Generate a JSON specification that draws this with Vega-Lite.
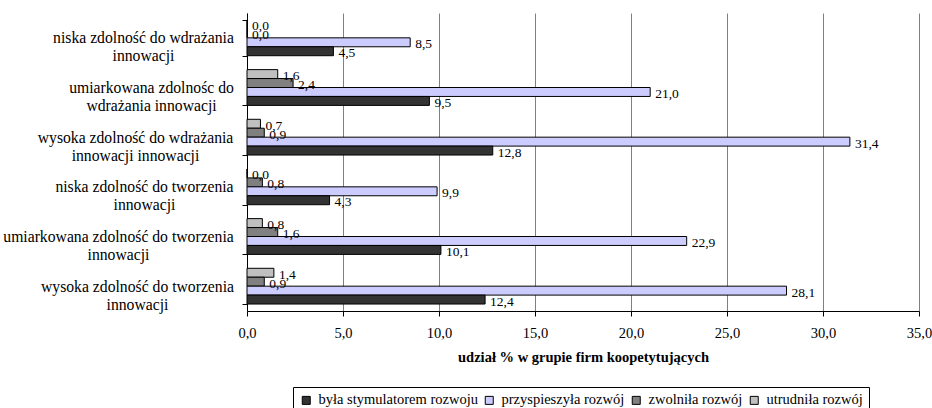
{
  "$schema": "https://vega.github.io/schema/vega-lite/v6.json",
  "width": 672,
  "height": 298,
  "autosize": {"type": "none"},
  "padding": {"left": 247, "top": 13, "right": 13, "bottom": 97},
  "background": "white",
  "config": {
    "font": "Liberation Serif, Times New Roman, DejaVu Serif, serif",
    "view": {"stroke": null},
    "locale": {"number": {"decimal": ",", "thousands": " ", "grouping": [3], "currency": ["", " zł"]}}
  },
  "data": {
    "values": [
      {"kategoria": "niska zdolność do wdrażania\ninnowacji", "odpowiedz": "utrudniła rozwój", "udzial": 0.0},
      {"kategoria": "niska zdolność do wdrażania\ninnowacji", "odpowiedz": "zwolniła rozwój", "udzial": 0.0},
      {"kategoria": "niska zdolność do wdrażania\ninnowacji", "odpowiedz": "przyspieszyła rozwój", "udzial": 8.5},
      {"kategoria": "niska zdolność do wdrażania\ninnowacji", "odpowiedz": "była stymulatorem rozwoju", "udzial": 4.5},
      {"kategoria": "umiarkowana zdolnośc do\nwdrażania innowacji", "odpowiedz": "utrudniła rozwój", "udzial": 1.6},
      {"kategoria": "umiarkowana zdolnośc do\nwdrażania innowacji", "odpowiedz": "zwolniła rozwój", "udzial": 2.4},
      {"kategoria": "umiarkowana zdolnośc do\nwdrażania innowacji", "odpowiedz": "przyspieszyła rozwój", "udzial": 21.0},
      {"kategoria": "umiarkowana zdolnośc do\nwdrażania innowacji", "odpowiedz": "była stymulatorem rozwoju", "udzial": 9.5},
      {"kategoria": "wysoka zdolność do wdrażania\ninnowacji innowacji", "odpowiedz": "utrudniła rozwój", "udzial": 0.7},
      {"kategoria": "wysoka zdolność do wdrażania\ninnowacji innowacji", "odpowiedz": "zwolniła rozwój", "udzial": 0.9},
      {"kategoria": "wysoka zdolność do wdrażania\ninnowacji innowacji", "odpowiedz": "przyspieszyła rozwój", "udzial": 31.4},
      {"kategoria": "wysoka zdolność do wdrażania\ninnowacji innowacji", "odpowiedz": "była stymulatorem rozwoju", "udzial": 12.8},
      {"kategoria": "niska zdolność do tworzenia\ninnowacji", "odpowiedz": "utrudniła rozwój", "udzial": 0.0},
      {"kategoria": "niska zdolność do tworzenia\ninnowacji", "odpowiedz": "zwolniła rozwój", "udzial": 0.8},
      {"kategoria": "niska zdolność do tworzenia\ninnowacji", "odpowiedz": "przyspieszyła rozwój", "udzial": 9.9},
      {"kategoria": "niska zdolność do tworzenia\ninnowacji", "odpowiedz": "była stymulatorem rozwoju", "udzial": 4.3},
      {"kategoria": "umiarkowana zdolność do tworzenia\ninnowacji", "odpowiedz": "utrudniła rozwój", "udzial": 0.8},
      {"kategoria": "umiarkowana zdolność do tworzenia\ninnowacji", "odpowiedz": "zwolniła rozwój", "udzial": 1.6},
      {"kategoria": "umiarkowana zdolność do tworzenia\ninnowacji", "odpowiedz": "przyspieszyła rozwój", "udzial": 22.9},
      {"kategoria": "umiarkowana zdolność do tworzenia\ninnowacji", "odpowiedz": "była stymulatorem rozwoju", "udzial": 10.1},
      {"kategoria": "wysoka zdolność do tworzenia\ninnowacji", "odpowiedz": "utrudniła rozwój", "udzial": 1.4},
      {"kategoria": "wysoka zdolność do tworzenia\ninnowacji", "odpowiedz": "zwolniła rozwój", "udzial": 0.9},
      {"kategoria": "wysoka zdolność do tworzenia\ninnowacji", "odpowiedz": "przyspieszyła rozwój", "udzial": 28.1},
      {"kategoria": "wysoka zdolność do tworzenia\ninnowacji", "odpowiedz": "była stymulatorem rozwoju", "udzial": 12.4}
    ]
  },
  "encoding": {
    "y": {
      "field": "kategoria",
      "type": "nominal",
      "sort": null,
      "scale": {"paddingInner": 0.28, "paddingOuter": 0.14},
      "axis": {
        "title": null,
        "labelExpr": "split(datum.label, '\\n')",
        "labelFontSize": 15.7,
        "labelLineHeight": 18,
        "labelColor": "black",
        "labelAlign": "center",
        "labelBaseline": "middle",
        "labelPadding": {
          "condition": [
            {"test": "indexof(datum.label, 'niska zdolność do wdrażania') == 0", "value": 99},
            {"test": "indexof(datum.label, 'umiarkowana zdolnośc do') == 0", "value": 91},
            {"test": "indexof(datum.label, 'wysoka zdolność do wdrażania') == 0", "value": 107},
            {"test": "indexof(datum.label, 'niska zdolność do tworzenia') == 0", "value": 98},
            {"test": "indexof(datum.label, 'umiarkowana zdolność do tworzenia') == 0", "value": 124}
          ],
          "value": 105
        },
        "labelLimit": 300,
        "tickBand": "extent",
        "tickSize": 5,
        "tickColor": "black",
        "domainColor": "black",
        "grid": false
      }
    },
    "yOffset": {
      "field": "odpowiedz",
      "type": "nominal",
      "sort": ["utrudniła rozwój", "zwolniła rozwój", "przyspieszyła rozwój", "była stymulatorem rozwoju"],
      "scale": {"paddingInner": 0, "paddingOuter": 0}
    },
    "x": {
      "field": "udzial",
      "type": "quantitative",
      "scale": {"domain": [0, 35], "nice": false},
      "axis": {
        "values": [0, 5, 10, 15, 20, 25, 30, 35],
        "format": ".1f",
        "title": "udział %  w grupie firm koopetytujących",
        "titleFontSize": 14.5,
        "titleFontWeight": "bold",
        "titleColor": "black",
        "titlePadding": 11,
        "labelFontSize": 14.5,
        "labelColor": "black",
        "labelPadding": 10,
        "tickSize": 5,
        "tickColor": "black",
        "domainColor": "black",
        "grid": true,
        "gridColor": "#808080",
        "gridOpacity": 1,
        "labelFlush": false
      }
    }
  },
  "layer": [
    {
      "mark": {"type": "bar", "stroke": "black", "strokeWidth": 1},
      "encoding": {
        "color": {
          "field": "odpowiedz",
          "type": "nominal",
          "scale": {
            "domain": ["była stymulatorem rozwoju", "przyspieszyła rozwój", "zwolniła rozwój", "utrudniła rozwój"],
            "range": ["#333333", "#ccccff", "#808080", "#c0c0c0"]
          },
          "legend": {
            "title": null,
            "orient": "none",
            "legendX": 46,
            "legendY": 374,
            "direction": "horizontal",
            "strokeColor": "black",
            "fillColor": "white",
            "padding": 6,
            "symbolType": "square",
            "symbolSize": 64,
            "symbolStrokeColor": "black",
            "symbolStrokeWidth": 1,
            "symbolOpacity": 1,
            "labelFontSize": 14.5,
            "labelColor": "black",
            "labelOffset": 5,
            "labelLimit": 300,
            "columnPadding": 4
          }
        }
      }
    },
    {
      "mark": {"type": "text", "align": "left", "baseline": "middle", "dx": 5, "dy": 2, "fontSize": 13.5, "color": "black"},
      "encoding": {
        "text": {"field": "udzial", "type": "quantitative", "format": ".1f"}
      }
    }
  ]
}
